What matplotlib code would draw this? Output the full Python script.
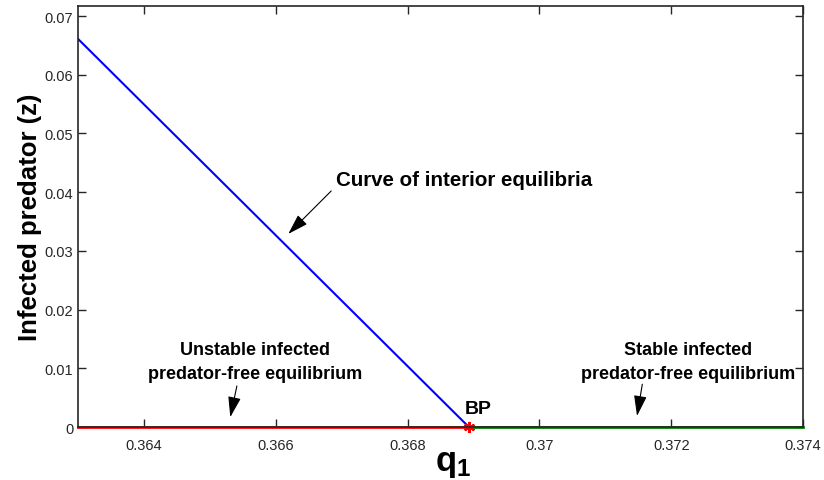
import numpy as np
import matplotlib
matplotlib.use("Agg")
import matplotlib.pyplot as plt

plt.rcParams['font.family'] = ['Liberation Sans', 'DejaVu Sans']
plt.rcParams['mathtext.fontset'] = 'custom'
plt.rcParams['mathtext.rm'] = 'Liberation Sans'
plt.rcParams['mathtext.bf'] = 'Liberation Sans:bold'

# branch point and curves
bp_q = 0.36893
q_interior = [0.363, bp_q]
z_interior = [0.0661, 0.0]
q_unstable = [0.363, bp_q]
z_unstable = [0.0, 0.0]
q_stable = [bp_q, 0.374]
z_stable = [0.0, 0.0]

xticks = [0.364, 0.366, 0.368, 0.370, 0.372, 0.374]
xticklabels = ['0.364', '0.366', '0.368', '0.37', '0.372', '0.374']
yticks = [0, 0.01, 0.02, 0.03, 0.04, 0.05, 0.06, 0.07]
yticklabels = ['0', '0.01', '0.02', '0.03', '0.04', '0.05', '0.06', '0.07']

fig = plt.figure(figsize=(8.24, 4.81), dpi=100)
ax = fig.add_axes([0.0947, 0.110, 0.88, 0.8754])

ax.plot(q_interior, z_interior, color='blue', lw=1.5)
ax.plot(q_unstable, z_unstable, color='red', lw=2, clip_on=False)
ax.plot(q_stable, z_stable, color=(0, 0.5, 0), lw=2, clip_on=False)
ax.plot([bp_q], [0], marker=(6, 2, 0), color='red', ms=8, mew=1.5, clip_on=False)

ax.set_xlim(0.363, 0.374)
ax.set_ylim(0, 0.0717)
ax.set_xticks(xticks)
ax.set_xticklabels(xticklabels)
ax.set_yticks(yticks)
ax.set_yticklabels(yticklabels)

gray = (0.15, 0.15, 0.15)
for s in ax.spines.values():
    s.set_color(gray)
    s.set_linewidth(1.2)
ax.tick_params(direction='in', top=True, right=True, length=6, width=1,
               color=gray, labelcolor=gray, labelsize=10.5)
ax.tick_params(axis='x', pad=8)

ax.set_xlabel('$\\mathbf{q_1}$', fontsize=25)
ax.xaxis.set_label_coords(0.518, -0.045, transform=ax.transAxes)
ax.xaxis.label.set_va('top')
ax.set_ylabel('Infected predator (z)', fontsize=18.5, fontweight='bold', labelpad=2)

ax.text(0.36887, 0.0017, 'BP', fontsize=14, fontweight='bold', ha='left', va='bottom')

arrow = dict(arrowstyle='-|>,head_length=0.7,head_width=0.22', color='black', lw=0.8,
             shrinkA=0, shrinkB=0, mutation_scale=18)
ax.text(0.36692, 0.0422, 'Curve of interior equilibria', fontsize=14.8,
        fontweight='bold', ha='left', va='center')
ax.annotate('', xy=(0.36619, 0.0329), xytext=(0.36684, 0.0402), arrowprops=arrow)
ax.text(0.36569, 0.0112, 'Unstable infected\npredator-free equilibrium', fontsize=13,
        fontweight='bold', ha='center', va='center', linespacing=1.5)
ax.annotate('', xy=(0.36531, 0.0017), xytext=(0.36541, 0.0070), arrowprops=arrow)
ax.text(0.37226, 0.0112, 'Stable infected\npredator-free equilibrium', fontsize=13,
        fontweight='bold', ha='center', va='center', linespacing=1.5)
ax.annotate('', xy=(0.37148, 0.0019), xytext=(0.37156, 0.0073), arrowprops=arrow)

fig.savefig('out.png', dpi=100)
